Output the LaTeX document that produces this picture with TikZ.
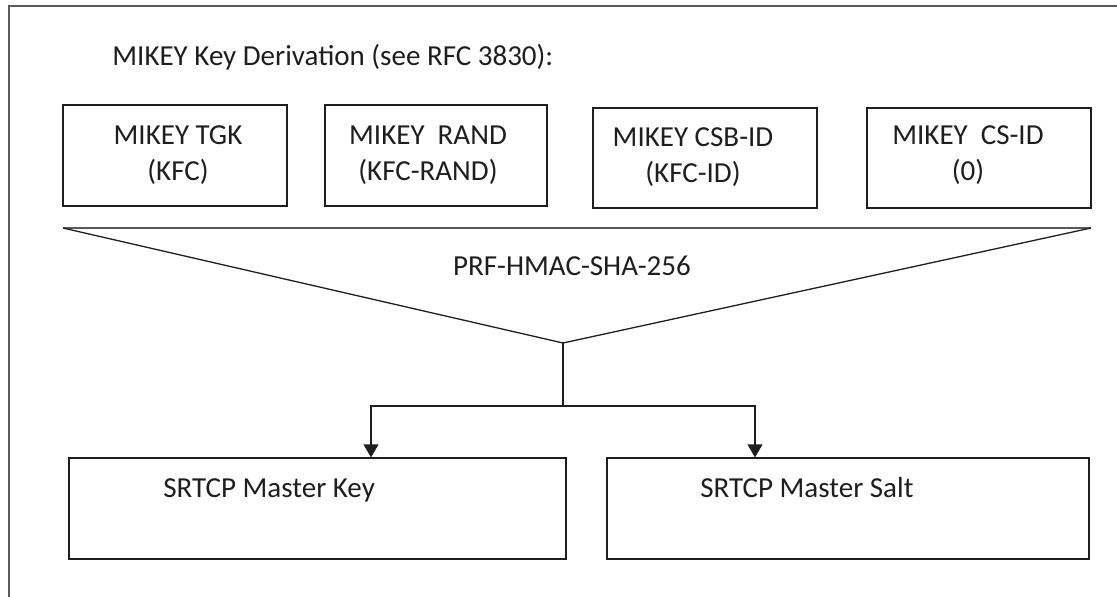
\documentclass[tikz,border=0pt]{standalone}
\usepackage{fontspec}
\setmainfont{Carlito}
\usepackage{tikz}
\usetikzlibrary{ arrows.meta }
\usepackage{xcolor}
\definecolor{framegray}{HTML}{595959}
\definecolor{ink}{HTML}{1E1E1E}

\begin{document}
\begin{tikzpicture}[
  x=0.5pt, y=-0.5pt,
  font=\fontsize{14.5}{18}\selectfont,
  box/.style={draw=ink, line width=0.65pt, inner sep=0pt},
  txt/.style={text=ink, align=center, inner sep=0pt},
  ln/.style={draw=ink, line width=0.65pt},
  ar/.style={-{Triangle[width=7.5pt,length=6.5pt]}, draw=ink, line width=0.65pt},
]
  \useasboundingbox (0,0) rectangle (1117,596);
  \draw[framegray, line width=1pt] (9,620) -- (9,6) -- (1140,6);

  \node[txt, anchor=base west] (title) at (112,65) {MIKEY Key Derivation (see RFC 3830):};

  % input boxes
  \node[box, minimum width=112pt, minimum height=50.5pt] (tgk) at (175,155.5) {};
  \node[box, minimum width=111pt, minimum height=50.5pt] (rand) at (436,155.5) {};
  \node[box, minimum width=112pt, minimum height=50pt] (csb) at (705,158) {};
  \node[box, minimum width=112pt, minimum height=50pt] (csid) at (979,158) {};
  \node[txt, anchor=north] (tgktxt) at (178,125) {MIKEY TGK\\(KFC)};
  \node[txt, anchor=north] (randtxt) at (428,125) {MIKEY\ \ RAND\\(KFC-RAND)};
  \node[txt, anchor=north] (csbtxt) at (693,127) {MIKEY CSB-ID\\(KFC-ID)};
  \node[txt, anchor=north] (csidtxt) at (968,125) {MIKEY\ \ CS-ID\\(0)};

  % PRF funnel
  \coordinate (fanl) at (63,228);
  \coordinate (fanr) at (1091,228);
  \coordinate (prf) at (563,343);
  \draw[framegray, line width=1pt] (fanl) -- (fanr);
  \draw[ln] (fanl) -- (prf) -- (fanr);
  \node[txt, anchor=base] (prftxt) at (572,275) {PRF-HMAC-SHA-256};

  % output boxes
  \node[box, minimum width=248.5pt, minimum height=50.5pt] (key) at (317.5,508.5) {};
  \node[box, minimum width=241pt, minimum height=50.5pt] (salt) at (848,508.5) {};
  \node[txt, anchor=base west] (keytxt) at (163,497) {SRTCP Master Key};
  \node[txt, anchor=base west] (salttxt) at (700,497) {SRTCP Master Salt};

  \coordinate (split) at (563,406);
  \draw[ln] (prf) -- (split);
  \draw[ar] (split) -| ([xshift=26.75pt]key.north);
  \draw[ar] (split) -| ([xshift=-46.5pt]salt.north);
\end{tikzpicture}
\end{document}
